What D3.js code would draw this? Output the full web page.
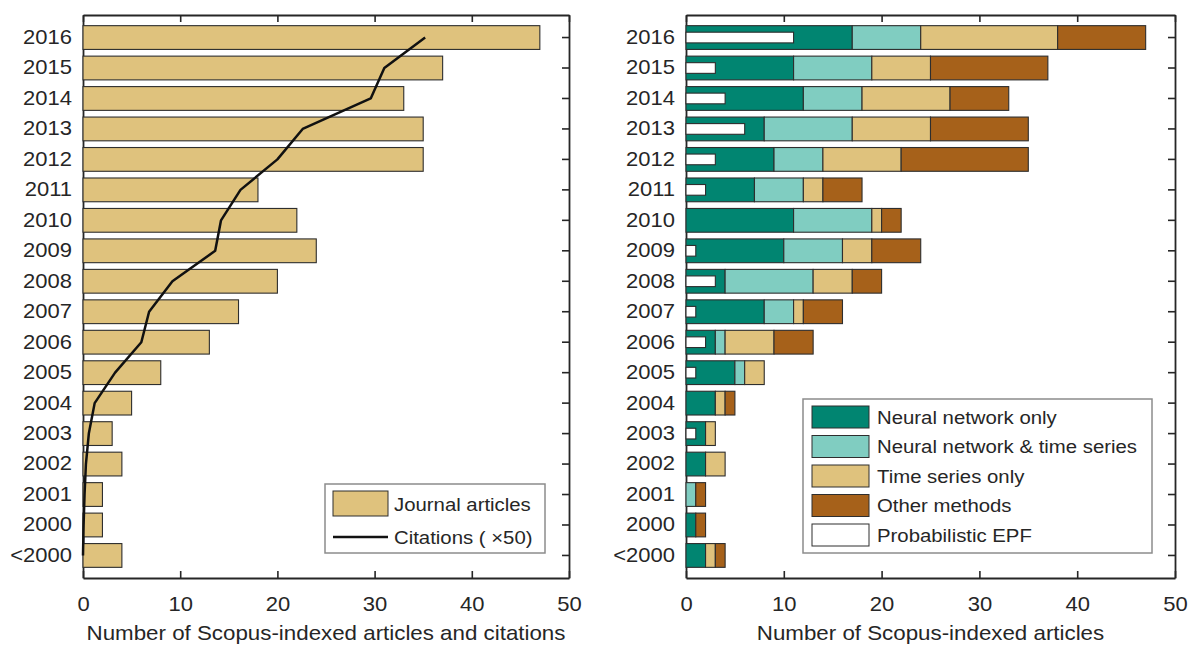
<!DOCTYPE html>
<html>
<head>
<meta charset="utf-8">
<script src="https://cdn.jsdelivr.net/npm/d3@7"></script>
<style>
  body { margin: 0; background: #fff; }
  text { font-family: "Liberation Sans", Arial, sans-serif; fill: #262626; }
</style>
</head>
<body>
<div id="plot_area"></div>
<script>
// categories, top to bottom
const years = ['2016', '2015', '2014', '2013', '2012', '2011', '2010', '2009', '2008',
  '2007', '2006', '2005', '2004', '2003', '2002', '2001', '2000', '<2000']

// left panel
const journalArticles = [47, 37, 33, 35, 35, 18, 22, 24, 20, 16, 13, 8, 5, 3, 4, 2, 2, 4]
const citations = [1760, 1550, 1480, 1130, 1000, 810, 710, 680, 460, 340, 300, 165, 60, 30, 15, 8, 3, 0]
const citationScale = 50

// right panel (stacked)
const nnOnly = [17, 11, 12, 8, 9, 7, 11, 10, 4, 8, 3, 5, 3, 2, 2, 0, 1, 2]
const nnTimeSeries = [7, 8, 6, 9, 5, 5, 8, 6, 9, 3, 1, 1, 0, 0, 0, 1, 0, 0]
const timeSeriesOnly = [14, 6, 9, 8, 8, 2, 1, 3, 4, 1, 5, 2, 1, 1, 2, 0, 0, 1]
const otherMethods = [9, 12, 6, 10, 13, 4, 2, 5, 3, 4, 4, 0, 1, 0, 0, 1, 1, 1]
const probabilisticEPF = [11, 3, 4, 6, 3, 2, 0, 1, 3, 1, 2, 1, 0, 1, 0, 0, 0, 0]

const xTicks = [0, 10, 20, 30, 40, 50]
const seriesNames = ['Neural network only', 'Neural network & time series', 'Time series only', 'Other methods']
const seriesColors = ['#018571', '#80cdc1', '#dfc27d', '#a6611a']

const svgWidth = 1189, svgHeight = 650
const plotTop = 15, plotBottom = 578
const SX = 1.1   // the original text is a bit wide
const axisColor = '#262626'
const edgeColor = '#2e2e2e'

const svg = d3.select('#plot_area').append('svg')
    .attr('width', svgWidth)
    .attr('height', svgHeight)

svg.append('rect').attr('width', svgWidth).attr('height', svgHeight).attr('fill', '#fff')

const yScale = d3.scaleBand()
    .domain(years)
    .range([plotTop, plotBottom])
    .paddingInner(0.22)
    .paddingOuter(0.35)

const xLeft = d3.scaleLinear().domain([0, 50]).range([83, 569])
const xRight = d3.scaleLinear().domain([0, 50]).range([686, 1175])

function styleAxis(g) {
    g.attr('font-size', null).attr('font-family', null)
    g.select('.domain').attr('stroke', axisColor).attr('stroke-width', 1.8)
    g.selectAll('.tick line').attr('stroke', axisColor).attr('stroke-width', 1.6)
    g.selectAll('.tick text').style('font-size', '20px').attr('fill', axisColor)
}

function drawAxes(x, title) {
    let xAxis = svg.append('g')
        .attr('transform', `translate(0, ${plotBottom})`)
        .call(d3.axisBottom(x).tickValues(xTicks).tickSizeInner(-7).tickSizeOuter(0).tickPadding(19))
    styleAxis(xAxis)
    xAxis.selectAll('.tick text').attr('transform', `scale(${SX},1)`)

    let topAxis = svg.append('g')
        .attr('transform', `translate(0, ${plotTop})`)
        .call(d3.axisTop(x).tickValues(xTicks).tickSizeInner(-7).tickSizeOuter(0).tickFormat(''))
    styleAxis(topAxis)

    let yAxis = svg.append('g')
        .attr('transform', `translate(${x.range()[0]}, 0)`)
        .call(d3.axisLeft(yScale).tickSizeInner(0).tickSizeOuter(0).tickPadding(11))
    styleAxis(yAxis)
    yAxis.selectAll('.tick text')
        .attr('x', -11 / SX)
        .attr('transform', `scale(${SX},1)`)

    let rightAxis = svg.append('g')
        .attr('transform', `translate(${x.range()[1]}, 0)`)
        .call(d3.axisRight(yScale).tickSizeInner(-7).tickSizeOuter(0).tickFormat(''))
    styleAxis(rightAxis)

    svg.append('text')
        .attr('transform', `translate(${(x.range()[0] + x.range()[1]) / 2}, 640) scale(${SX},1)`)
        .attr('text-anchor', 'middle')
        .style('font-size', '20.3px')
        .text(title)
}

drawAxes(xLeft, 'Number of Scopus-indexed articles and citations')
drawAxes(xRight, 'Number of Scopus-indexed articles')

// ---- left panel: journal articles + citations line
svg.append('g')
    .selectAll('rect')
    .data(years)
    .enter()
    .append('rect')
    .attr('x', xLeft(0))
    .attr('y', d => yScale(d))
    .attr('width', (d, i) => xLeft(journalArticles[i]) - xLeft(0))
    .attr('height', yScale.bandwidth())
    .attr('fill', '#dfc27d')
    .attr('stroke', edgeColor)
    .attr('stroke-width', 1.1)

const citationLine = d3.line()
    .x((d, i) => xLeft(d / citationScale))
    .y((d, i) => yScale(years[i]) + yScale.bandwidth() / 2)

svg.append('path')
    .datum(citations)
    .attr('d', citationLine)
    .attr('fill', 'none')
    .attr('stroke', '#111')
    .attr('stroke-width', 2.5)
    .attr('stroke-linejoin', 'round')

// left legend
let legL = svg.append('g')
legL.append('rect').attr('x', 325).attr('y', 484).attr('width', 220).attr('height', 69)
    .attr('fill', '#fff').attr('stroke', '#8c8c8c').attr('stroke-width', 1.5)
legL.append('rect').attr('x', 333).attr('y', 491).attr('width', 55).attr('height', 25)
    .attr('fill', '#dfc27d').attr('stroke', edgeColor)
legL.append('line').attr('x1', 333).attr('x2', 388).attr('y1', 537).attr('y2', 537)
    .attr('stroke', '#111').attr('stroke-width', 2.5)
legL.append('text').attr('transform', `translate(394, 510.5) scale(${SX},1)`)
    .style('font-size', '18.5px').text('Journal articles')
legL.append('text').attr('transform', `translate(394, 543.5) scale(${SX},1)`)
    .style('font-size', '18.5px').text('Citations ( ×50)')

// ---- right panel: stacked by method
const rows = years.map((y, i) => ({
    year: y,
    s0: nnOnly[i], s1: nnTimeSeries[i], s2: timeSeriesOnly[i], s3: otherMethods[i]
}))
const stack = d3.stack().keys(['s0', 's1', 's2', 's3'])(rows)

svg.append('g')
    .selectAll('g')
    .data(stack)
    .enter()
    .append('g')
    .attr('fill', (d, i) => seriesColors[i])
    .selectAll('rect')
    .data(d => d.filter(p => p[1] > p[0]))
    .enter()
    .append('rect')
    .attr('x', d => xRight(d[0]))
    .attr('y', d => yScale(d.data.year))
    .attr('width', d => xRight(d[1]) - xRight(d[0]))
    .attr('height', yScale.bandwidth())
    .attr('stroke', edgeColor)
    .attr('stroke-width', 1.1)

// probabilistic EPF, thin white bars on top
const epfHeight = yScale.bandwidth() * 0.45
svg.append('g')
    .selectAll('rect')
    .data(years.filter((d, i) => probabilisticEPF[i] > 0))
    .enter()
    .append('rect')
    .attr('x', xRight(0))
    .attr('y', d => yScale(d) + (yScale.bandwidth() - epfHeight) / 2)
    .attr('width', d => xRight(probabilisticEPF[years.indexOf(d)]) - xRight(0))
    .attr('height', epfHeight)
    .attr('fill', '#fff')
    .attr('stroke', edgeColor)
    .attr('stroke-width', 1.1)

// right legend
let legR = svg.append('g')
legR.append('rect').attr('x', 803).attr('y', 399).attr('width', 349).attr('height', 154)
    .attr('fill', '#fff').attr('stroke', '#8c8c8c').attr('stroke-width', 1.5)

const legendNames = seriesNames.concat(['Probabilistic EPF'])
const legendColors = seriesColors.concat(['#fff'])
legendNames.forEach((name, i) => {
    let yy = 406 + i * 29.5
    legR.append('rect').attr('x', 812).attr('y', yy).attr('width', 57).attr('height', 22)
        .attr('fill', legendColors[i]).attr('stroke', edgeColor)
    legR.append('text').attr('transform', `translate(877, ${yy + 17.5}) scale(${SX},1)`)
        .style('font-size', '18.5px').text(name)
})
</script>
</body>
</html>
